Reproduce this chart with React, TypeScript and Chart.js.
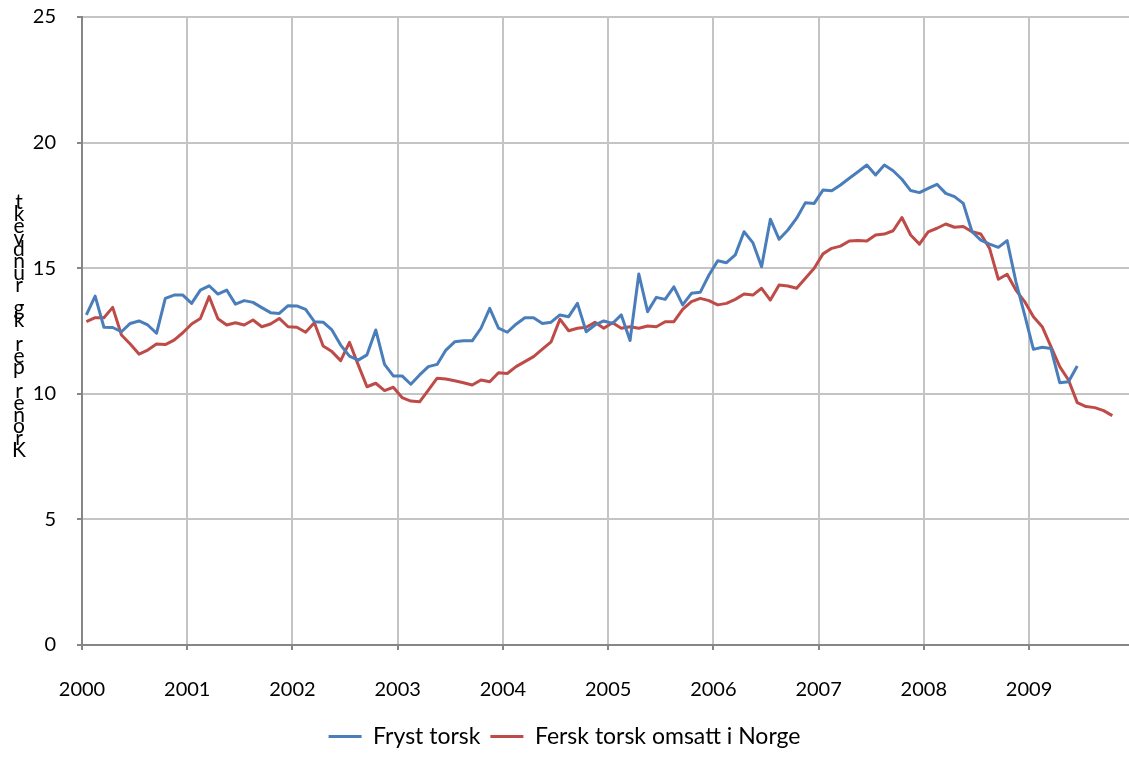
import React, { useEffect, useRef } from 'react';
import { Chart, registerables } from 'chart.js';

Chart.register(...registerables);

const YEARS = ['2000', '2001', '2002', '2003', '2004', '2005', '2006', '2007', '2008', '2009'];
const SERIES_NAMES = ['Fryst torsk', 'Fersk torsk omsatt i Norge'];
const Y_TITLE = 'Kroner per kg rundvekt';

// Monthly prices, Jan 2000 onwards
const FRYST = [
  13.14, 13.89, 12.65, 12.64, 12.47, 12.8, 12.9, 12.74, 12.41, 13.8, 13.93, 13.93,
  13.6, 14.13, 14.3, 13.97, 14.13, 13.57, 13.71, 13.64, 13.43, 13.23, 13.2, 13.51,
  13.5, 13.36, 12.87, 12.85, 12.54, 11.94, 11.5, 11.34, 11.55, 12.54, 11.17, 10.71,
  10.71, 10.38, 10.75, 11.08, 11.17, 11.74, 12.07, 12.11, 12.11, 12.61, 13.4, 12.61,
  12.45, 12.77, 13.03, 13.03, 12.8, 12.85, 13.14, 13.07, 13.6, 12.47, 12.74, 12.9,
  12.8, 13.14, 12.12, 14.77, 13.27, 13.84, 13.76, 14.26, 13.54, 14.0, 14.04, 14.73,
  15.3, 15.22, 15.53, 16.45, 16.02, 15.06, 16.95, 16.15, 16.52, 16.99, 17.61, 17.58,
  18.11, 18.08, 18.31, 18.58, 18.84, 19.11, 18.71, 19.11, 18.88, 18.54, 18.09, 18.01,
  18.18, 18.34, 17.98, 17.85, 17.58, 16.45, 16.12, 15.96, 15.83, 16.1, 14.47, 13.14,
  11.77, 11.85, 11.8, 10.44, 10.48, 11.11,
];

const FERSK = [
  12.87, 13.03, 13.03, 13.44, 12.34, 11.98, 11.58, 11.74, 11.98, 11.96, 12.14, 12.43,
  12.78, 13.0, 13.87, 12.99, 12.74, 12.83, 12.74, 12.94, 12.67, 12.78, 13.0, 12.67,
  12.65, 12.45, 12.83, 11.9, 11.68, 11.32, 12.05, 11.15, 10.28, 10.42, 10.13, 10.26,
  9.85, 9.71, 9.68, 10.15, 10.62, 10.59, 10.52, 10.44, 10.35, 10.55, 10.48, 10.84,
  10.81, 11.08, 11.28, 11.48, 11.78, 12.07, 12.97, 12.51, 12.61, 12.65, 12.85, 12.61,
  12.83, 12.61, 12.67, 12.61, 12.7, 12.67, 12.87, 12.87, 13.36, 13.67, 13.8, 13.71,
  13.54, 13.6, 13.76, 13.97, 13.93, 14.2, 13.73, 14.33, 14.29, 14.2, 14.6, 15.0,
  15.57, 15.79, 15.88, 16.08, 16.1, 16.08, 16.32, 16.36, 16.49, 17.02, 16.32, 15.96,
  16.45, 16.59, 16.76, 16.63, 16.66, 16.45, 16.36, 15.79, 14.56, 14.76, 14.13, 13.67,
  13.07, 12.67, 11.88, 11.08, 10.55, 9.65, 9.49, 9.45, 9.33, 9.13,
];

const COLORS = ['#4A7EBB', '#BE4B48'];
const FONT_FAMILY = 'Lato, "Noto Sans", sans-serif';

export default function App() {
  const ref = useRef<HTMLCanvasElement>(null);

  useEffect(() => {
    if (!ref.current) return;
    const toPts = (arr: number[]) => arr.map((v, i) => ({ x: i + 0.5, y: v }));

    const yTitlePlugin = {
      id: 'stackedYTitle',
      afterDraw(chart: any) {
        const ctx = chart.ctx;
        ctx.save();
        ctx.font = `21px ${FONT_FAMILY}`;
        ctx.fillStyle = '#000';
        ctx.textAlign = 'center';
        ctx.textBaseline = 'alphabetic';
        Array.from(Y_TITLE).forEach((c, k) => {
          ctx.fillText(c, 19, 457 - k * 11.8);
        });
        ctx.restore();
      },
    };

    const font = { family: FONT_FAMILY, size: 20 };
    const legendFont = { family: FONT_FAMILY, size: 23 };
    const grid = { color: '#c4c4c4', lineWidth: 2, tickLength: 5, tickColor: '#868686', drawTicks: true };
    const border = { color: '#868686', width: 2 };

    const chart = new Chart(ref.current, {
      type: 'line',
      data: {
        datasets: [
          {
            label: SERIES_NAMES[0],
            data: toPts(FRYST),
            borderColor: COLORS[0],
            backgroundColor: COLORS[0],
            borderWidth: 3,
            pointRadius: 0,
            tension: 0,
            borderJoinStyle: 'round',
          },
          {
            label: SERIES_NAMES[1],
            data: toPts(FERSK),
            borderColor: COLORS[1],
            backgroundColor: COLORS[1],
            borderWidth: 3,
            pointRadius: 0,
            tension: 0,
            borderJoinStyle: 'round',
          },
        ],
      },
      options: {
        animation: false,
        responsive: false,
        layout: { padding: { top: 17, left: 0, right: 0, bottom: 0 } },
        plugins: {
          legend: {
            position: 'bottom',
            labels: {
              usePointStyle: true,
              pointStyle: 'line',
              pointStyleWidth: 33,
              boxHeight: 23,
              font: legendFont,
              color: '#000',
              padding: 10,
            },
          },
          tooltip: { enabled: false },
        },
        scales: {
          x: {
            type: 'linear',
            min: 0,
            max: 119.4,
            afterBuildTicks: (s: any) => {
              s.ticks = YEARS.map((_, k) => ({ value: k * 12 }));
            },
            afterFit: (s: any) => {
              s.paddingLeft = 0;
              s.paddingRight = 0;
              s.height = 70;
            },
            ticks: {
              callback: (v: any) => YEARS[Math.round(Number(v) / 12)] ?? '',
              font,
              color: '#000',
              padding: 28,
              maxRotation: 0,
              autoSkip: false,
            },
            grid,
            border,
          },
          y: {
            min: 0,
            max: 25,
            ticks: { stepSize: 5, padding: 21, font, color: '#000' },
            afterFit: (s: any) => {
              s.width = 82;
              s.paddingTop = 0;
              s.paddingBottom = 0;
            },
            grid,
            border,
          },
        },
      } as any,
      plugins: [yTitlePlugin],
    });

    return () => chart.destroy();
  }, []);

  return (
    <canvas
      ref={ref}
      width={1129}
      height={758}
      style={{ position: 'absolute', left: 0, top: 0, display: 'block' }}
    />
  );
}
